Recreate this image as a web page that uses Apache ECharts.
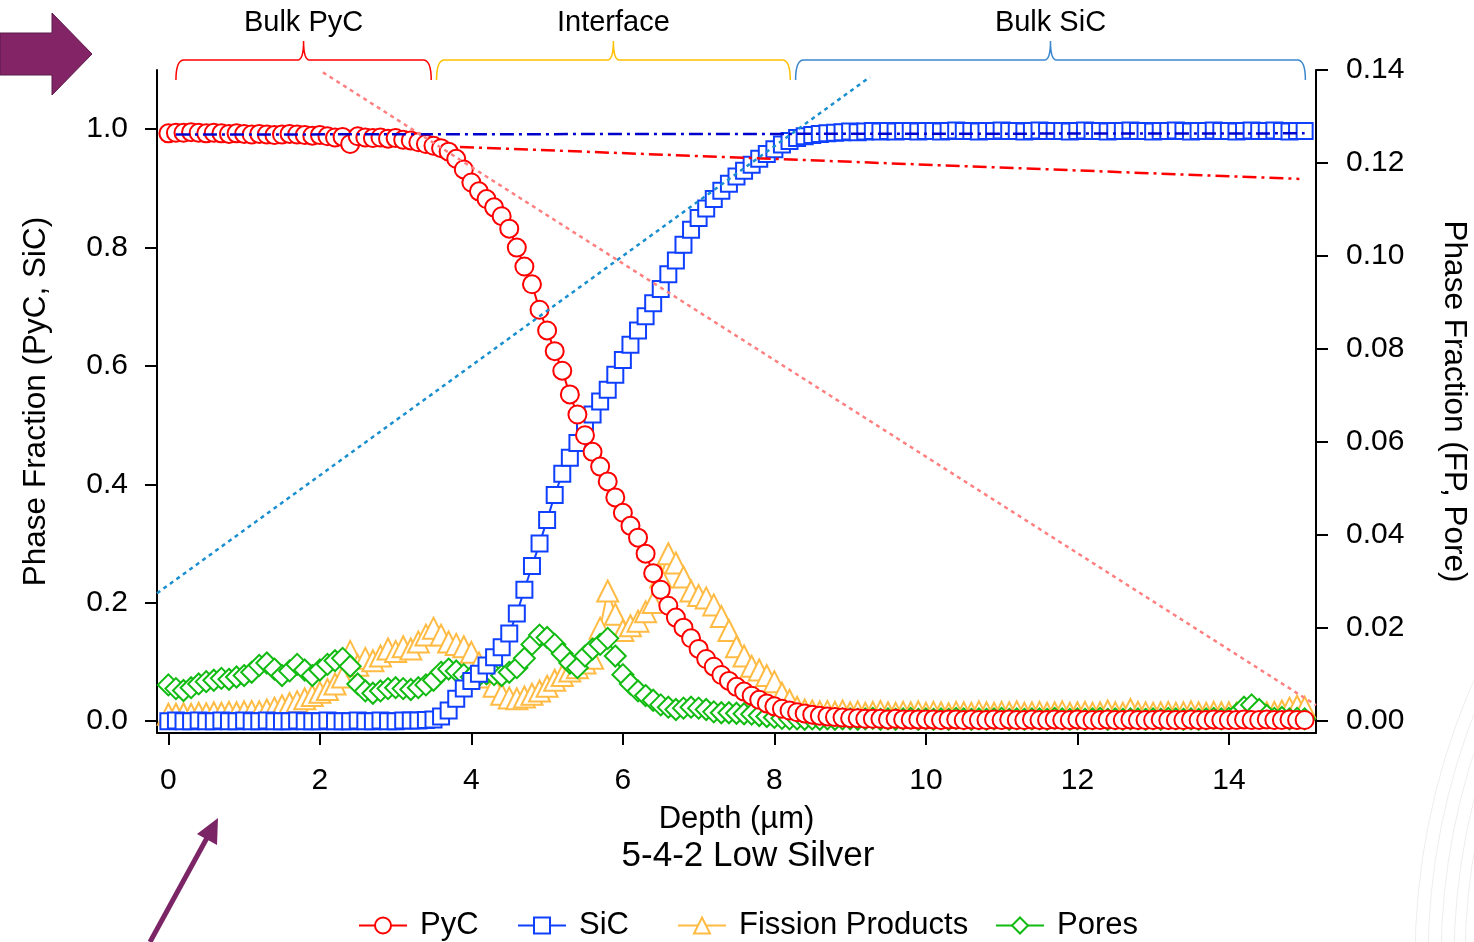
<!DOCTYPE html>
<html>
<head>
<meta charset="utf-8">
<script src="https://cdn.jsdelivr.net/npm/echarts@6/dist/echarts.min.js"></script>
<title>5-4-2 Low Silver</title>
<style>
  body { margin: 0; background: #fff; }
  #main { width: 1474px; height: 942px; }
</style>
</head>
<body>
<div id="main"></div>
<script>
// depth sampled every 0.1 um, 0 .. 15
var depth = [];
for (var i = 0; i <= 150; i++) depth.push(i / 10);

// left axis (PyC, SiC)
var pyc = [
  0.993,0.994,0.994,0.995,0.994,0.993,0.994,0.993,0.992,0.993,
  0.992,0.991,0.992,0.991,0.990,0.991,0.992,0.991,0.990,0.989,
  0.990,0.988,0.986,0.987,0.975,0.988,0.986,0.985,0.986,0.984,
  0.985,0.982,0.981,0.978,0.975,0.972,0.968,0.962,0.950,0.932,
  0.910,0.895,0.882,0.868,0.853,0.832,0.800,0.768,0.738,0.695,
  0.660,0.625,0.592,0.552,0.518,0.483,0.455,0.430,0.405,0.378,
  0.352,0.330,0.310,0.283,0.250,0.222,0.195,0.175,0.158,0.140,
  0.122,0.105,0.092,0.078,0.068,0.058,0.050,0.043,0.036,0.030,
  0.025,0.021,0.018,0.015,0.013,0.011,0.009,0.008,0.007,0.006,
  0.005,0.005,0.004,0.004,0.004,0.003,0.004,0.003,0.003,0.003,
  0.003,0.003,0.002,0.003,0.003,0.002,0.003,0.002,0.002,0.003,
  0.002,0.003,0.002,0.002,0.003,0.002,0.002,0.003,0.002,0.002,
  0.003,0.002,0.002,0.002,0.003,0.002,0.002,0.003,0.002,0.002,
  0.002,0.003,0.002,0.002,0.002,0.003,0.002,0.002,0.003,0.002,
  0.002,0.002,0.003,0.002,0.002,0.003,0.002,0.002,0.003,0.002,
  0.002
];
var sic = [
  0.000,0.001,0.000,0.000,0.001,0.000,0.000,0.001,0.000,0.000,
  0.001,0.000,0.000,0.001,0.000,0.000,0.000,0.001,0.000,0.000,
  0.000,0.001,0.000,0.000,0.000,0.001,0.000,0.000,0.001,0.000,
  0.000,0.001,0.001,0.001,0.002,0.003,0.008,0.018,0.038,0.055,
  0.068,0.080,0.094,0.108,0.125,0.148,0.182,0.222,0.262,0.300,
  0.340,0.382,0.418,0.445,0.470,0.495,0.518,0.540,0.560,0.585,
  0.610,0.636,0.660,0.684,0.706,0.730,0.755,0.778,0.805,0.830,
  0.850,0.866,0.882,0.896,0.908,0.920,0.930,0.940,0.950,0.958,
  0.966,0.974,0.980,0.985,0.988,0.990,0.992,0.993,0.994,0.995,
  0.996,0.995,0.996,0.997,0.996,0.997,0.996,0.997,0.997,0.996,
  0.997,0.997,0.996,0.997,0.998,0.997,0.997,0.996,0.997,0.997,
  0.998,0.997,0.997,0.996,0.997,0.998,0.997,0.997,0.997,0.996,
  0.997,0.998,0.997,0.997,0.996,0.997,0.997,0.998,0.997,0.997,
  0.996,0.997,0.997,0.998,0.997,0.996,0.997,0.997,0.998,0.997,
  0.997,0.996,0.997,0.998,0.997,0.997,0.998,0.997,0.996,0.997,
  0.997
];

// right axis (fission products, pores)
var fp = [
  0.0015,0.0015,0.0016,0.0015,0.0017,0.0016,0.0018,0.0017,0.0019,0.0018,
  0.0020,0.0021,0.0020,0.0024,0.0028,0.0033,0.0038,0.0042,0.0048,0.0055,
  0.0062,0.0068,0.0080,0.0095,0.0150,0.0120,0.0135,0.0130,0.0140,0.0155,
  0.0150,0.0160,0.0155,0.0170,0.0185,0.0200,0.0185,0.0170,0.0165,0.0160,
  0.0148,0.0125,0.0095,0.0075,0.0058,0.0050,0.0048,0.0052,0.0058,0.0065,
  0.0075,0.0088,0.0098,0.0108,0.0115,0.0125,0.0135,0.0200,0.0280,0.0230,
  0.0195,0.0205,0.0215,0.0235,0.0255,0.0310,0.0360,0.0340,0.0310,0.0280,
  0.0270,0.0265,0.0250,0.0225,0.0195,0.0160,0.0140,0.0118,0.0110,0.0098,
  0.0085,0.0060,0.0045,0.0030,0.0024,0.0022,0.0020,0.0021,0.0019,0.0022,
  0.0018,0.0020,0.0017,0.0019,0.0021,0.0018,0.0017,0.0019,0.0018,0.0020,
  0.0017,0.0019,0.0018,0.0016,0.0019,0.0018,0.0017,0.0020,0.0018,0.0017,
  0.0019,0.0018,0.0020,0.0017,0.0018,0.0019,0.0017,0.0018,0.0020,0.0017,
  0.0018,0.0019,0.0017,0.0018,0.0022,0.0018,0.0017,0.0025,0.0019,0.0018,
  0.0017,0.0018,0.0019,0.0017,0.0018,0.0020,0.0018,0.0017,0.0019,0.0018,
  0.0018,0.0017,0.0019,0.0018,0.0017,0.0018,0.0019,0.0022,0.0028,0.0032,
  0.0030
];
var pores = [
  0.0078,0.0070,0.0066,0.0072,0.0080,0.0085,0.0088,0.0092,0.0090,0.0095,
  0.0098,0.0105,0.0120,0.0125,0.0112,0.0098,0.0108,0.0122,0.0110,0.0098,
  0.0110,0.0122,0.0130,0.0135,0.0118,0.0080,0.0065,0.0060,0.0065,0.0070,
  0.0072,0.0070,0.0068,0.0072,0.0078,0.0088,0.0105,0.0112,0.0108,0.0100,
  0.0095,0.0098,0.0102,0.0100,0.0098,0.0105,0.0115,0.0135,0.0165,0.0185,
  0.0180,0.0165,0.0145,0.0125,0.0115,0.0140,0.0155,0.0165,0.0178,0.0140,
  0.0100,0.0080,0.0065,0.0055,0.0045,0.0035,0.0030,0.0025,0.0028,0.0030,
  0.0028,0.0025,0.0020,0.0018,0.0018,0.0017,0.0016,0.0015,0.0012,0.0010,
  0.0008,0.0006,0.0005,0.0005,0.0004,0.0005,0.0004,0.0005,0.0004,0.0005,
  0.0005,0.0004,0.0005,0.0006,0.0004,0.0005,0.0004,0.0005,0.0006,0.0004,
  0.0005,0.0004,0.0005,0.0004,0.0006,0.0005,0.0004,0.0005,0.0004,0.0005,
  0.0006,0.0004,0.0005,0.0004,0.0005,0.0005,0.0004,0.0006,0.0005,0.0004,
  0.0005,0.0004,0.0005,0.0006,0.0004,0.0005,0.0004,0.0005,0.0005,0.0004,
  0.0005,0.0004,0.0006,0.0005,0.0004,0.0005,0.0004,0.0005,0.0006,0.0005,
  0.0006,0.0015,0.0030,0.0035,0.0025,0.0012,0.0006,0.0008,0.0005,0.0006,
  0.0005
];

// straight guide lines, [depth, fraction] on left axis
var sicFit = [[0.1, 0.991], [15.0, 0.993]];
var pycFit = [[3.85, 0.970], [14.93, 0.916]];
var riseGuide = [[-0.15, 0.216], [9.26, 1.088]];
var fallGuide = [[2.04, 1.096], [15.15, 0.027]];

// region braces on top
var braceNames = ['Bulk PyC', 'Interface', 'Bulk SiC'];
var braceFrom = [0.1, 3.54, 8.28];
var braceTo = [3.47, 8.21, 15.01];
var braceColors = ['#ff0000', '#ffc000', '#3a86cf'];

var xTicks = [0, 2, 4, 6, 8, 10, 12, 14];
var leftTicks = [0, 0.2, 0.4, 0.6, 0.8, 1.0];
var rightTicks = [0, 0.02, 0.04, 0.06, 0.08, 0.10, 0.12, 0.14];

var legendNames = ['PyC', 'SiC', 'Fission Products', 'Pores'];
var legendLeft = [358, 517, 677, 995];

function pairs(ys) {
  return depth.map(function (d, k) { return [d, ys[k]]; });
}

var FONT = 'Liberation Sans, Arial, Helvetica, sans-serif';
var axisLine = { onZero: false, lineStyle: { color: '#000', width: 2 } };
var axisTick = { inside: false, length: 12, lineStyle: { color: '#000', width: 2 } };

var myChart = echarts.init(document.getElementById('main'));

function dataSeries(name, ys, sym, size, color, yIdx) {
  return {
    name: name, type: 'line', yAxisIndex: yIdx,
    data: pairs(ys),
    symbol: sym, symbolSize: size, showAllSymbol: true,
    lineStyle: { color: color, width: 2 },
    itemStyle: { color: color, borderColor: color, borderWidth: 1.3 },
    emphasis: { disabled: true }
  };
}
function guide(data, color, dash) {
  return {
    type: 'line', yAxisIndex: 0, data: data, symbol: 'none', z: 5,
    lineStyle: { color: color, width: 2.5, type: dash },
    emphasis: { disabled: true }, silent: true
  };
}

var option = {
  animation: false,
  backgroundColor: '#fff',
  textStyle: { fontFamily: FONT },
  grid: { left: 157, right: 158, top: 70, bottom: 209, outerBoundsMode: 'none', containLabel: false },
  title: {
    text: '5-4-2 Low Silver', left: 743, top: 834, textAlign: 'center',
    textStyle: { fontFamily: FONT, fontSize: 35, fontWeight: 'normal', color: '#000' }
  },
  legend: legendNames.map(function (n, k) {
    return {
      data: [n], left: legendLeft[k], top: 910, padding: 0, itemWidth: 48, itemHeight: 20,
      textStyle: { fontFamily: FONT, fontSize: 31, color: '#000', padding: [0, 0, 0, 8] }
    };
  }),
  xAxis: {
    type: 'value', min: -0.15, max: 15.15,
    name: 'Depth (µm)', nameLocation: 'middle', nameGap: 71,
    nameTextStyle: { fontFamily: FONT, fontSize: 31, color: '#000' },
    axisLine: axisLine, axisTick: Object.assign({ customValues: xTicks }, axisTick),
    axisLabel: { customValues: xTicks, margin: 33, fontFamily: FONT, fontSize: 30, color: '#000' },
    splitLine: { show: false }
  },
  yAxis: [{
    type: 'value', position: 'left', min: -0.02, max: 1.1,
    name: 'Phase Fraction (PyC, SiC)', nameLocation: 'middle', nameGap: 105,
    nameTextStyle: { fontFamily: FONT, fontSize: 31.5, color: '#000' },
    axisLine: axisLine, axisTick: Object.assign({ customValues: leftTicks }, axisTick),
    axisLabel: { customValues: leftTicks, margin: 29, fontFamily: FONT, fontSize: 30, color: '#000',
      formatter: function (v) { return v.toFixed(1); } },
    splitLine: { show: false }
  }, {
    type: 'value', position: 'right', min: -0.02 * 0.14 / 1.1, max: 0.14,
    name: 'Phase Fraction (FP, Pore)', nameLocation: 'middle', nameGap: 122, nameRotate: -90,
    nameTextStyle: { fontFamily: FONT, fontSize: 31.5, color: '#000' },
    axisLine: axisLine, axisTick: Object.assign({ customValues: rightTicks }, axisTick),
    axisLabel: { customValues: rightTicks, margin: 30, fontFamily: FONT, fontSize: 30, color: '#000',
      formatter: function (v) { return v.toFixed(2); } },
    splitLine: { show: false }
  }],
  series: [
    dataSeries('Fission Products', fp, 'emptyTriangle', 21, '#ffbb44', 1),
    dataSeries('Pores', pores, 'emptyDiamond', 21, '#11bb11', 1),
    dataSeries('SiC', sic, 'emptyRect', 16, '#1040ff', 0),
    dataSeries('PyC', pyc, 'emptyCircle', 18, '#ff0000', 0),
    guide(sicFit, '#0000cc', [14, 5, 3, 5]),
    guide(pycFit, '#ff0000', [14, 5, 3, 5]),
    guide(riseGuide, '#1a8fd0', [4, 4]),
    guide(fallGuide, '#ff8080', [4, 4])
  ]
};
myChart.setOption(option);

// quadratic curve sampled to points
function quad(p0, c, p1) {
  var out = [];
  for (var t = 0; t <= 1.0001; t += 0.125) {
    var u = 1 - t;
    out.push([u * u * p0[0] + 2 * u * t * c[0] + t * t * p1[0],
              u * u * p0[1] + 2 * u * t * c[1] + t * t * p1[1]]);
  }
  return out;
}

// braces, arrows and decoration
var gfx = [];
for (var b = 0; b < braceNames.length; b++) {
  var x1 = myChart.convertToPixel({ gridIndex: 0 }, [braceFrom[b], 0])[0];
  var x2 = myChart.convertToPixel({ gridIndex: 0 }, [braceTo[b], 0])[0];
  var xc = (x1 + x2) / 2;
  var pts = [].concat(
    quad([x1, 80], [x1, 60], [x1 + 8, 60]),
    quad([xc - 6, 60], [xc, 60], [xc, 41]),
    quad([xc, 41], [xc, 60], [xc + 6, 60]),
    quad([x2 - 8, 60], [x2, 60], [x2, 80])
  );
  gfx.push({ type: 'polyline', shape: { points: pts }, style: { fill: null, stroke: braceColors[b], lineWidth: 1.5 }, silent: true });
  gfx.push({ type: 'text', x: xc, y: 23, style: { text: braceNames[b], font: '29px ' + FONT, fill: '#000', align: 'center', verticalAlign: 'middle' }, silent: true });
}
gfx.push({ type: 'polygon', shape: { points: [[0, 33], [52, 33], [52, 13], [92, 54], [52, 95], [52, 75], [0, 75]] },
  style: { fill: '#822466', stroke: '#5d1a4a', lineWidth: 1 }, silent: true });
gfx.push({ type: 'line', shape: { x1: 150, y1: 942, x2: 208, y2: 836 }, style: { stroke: '#7b2466', lineWidth: 5 }, silent: true });
gfx.push({ type: 'polygon', shape: { points: [[218, 818], [217, 845], [197, 834]] }, style: { fill: '#7b2466' }, silent: true });
[694, 681, 668, 655, 644].forEach(function (r) {
  gfx.push({ type: 'circle', shape: { cx: 2109, cy: 960, r: r }, style: { fill: null, stroke: '#eeeeee', lineWidth: 1 }, silent: true, z: -1 });
});
myChart.setOption({ graphic: gfx });
</script>
</body>
</html>
